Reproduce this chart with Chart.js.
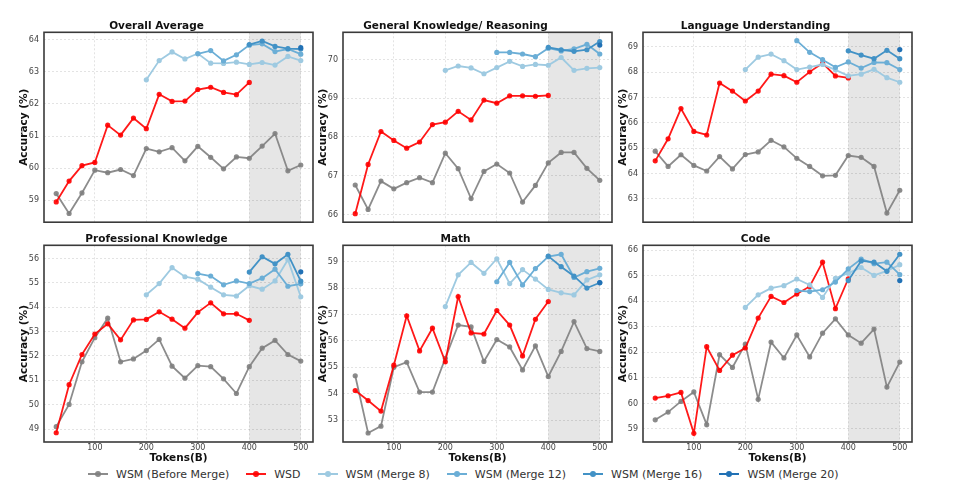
<!DOCTYPE html>
<html>
<head>
<meta charset="utf-8">
<script src="https://cdn.jsdelivr.net/npm/chart.js@4.4.0/dist/chart.umd.min.js"></script>
<style>
  body { margin: 0; background: #fff; width: 960px; height: 498px; position: relative; overflow: hidden; font-family: "DejaVu Sans", sans-serif; }
  canvas { position: absolute; }
  #legend { position: absolute; top: 466px; left: 88px; height: 16px; display: flex; align-items: center; font-size: 11px; color: #333; }
  .item { display: flex; align-items: center; margin-right: 17px; }
  .mk { position: relative; width: 20px; height: 10px; margin-right: 8px; }
  .mk::before { content: ''; position: absolute; left: 0; right: 0; top: 4px; height: 2px; background: var(--c); }
  .mk::after { content: ''; position: absolute; left: 7px; top: 2px; width: 6px; height: 6px; border-radius: 50%; background: var(--c); }
</style>
</head>
<body>
<div id="legend"></div>
<script>
// x values (tokens, billions)
const tokens = [25, 50, 75, 100, 125, 150, 175, 200, 225, 250, 275, 300, 325, 350, 375, 400, 425, 450, 475, 500];
const xTicks = [100, 200, 300, 400, 500];

const seriesNames = ['WSM (Before Merge)', 'WSD', 'WSM (Merge 8)', 'WSM (Merge 12)', 'WSM (Merge 16)', 'WSM (Merge 20)'];
const seriesColors = ['rgba(128,128,128,0.9)', 'rgba(255,0,0,0.9)', '#9ecae1', '#6baed6', '#4292c6', '#2171b5'];

// Overall Average
const avgBefore = [59.21, 58.59, 59.23, 59.94, 59.86, 59.96, 59.77, 60.61, 60.51, 60.64, 60.23, 60.68, 60.34, 59.98, 60.35, 60.31, 60.69, 61.08, 59.92, 60.10];
const avgWSD = [58.95, 59.60, 60.08, 60.18, 61.34, 61.03, 61.56, 61.23, 62.30, 62.08, 62.09, 62.45, 62.52, 62.36, 62.29, 62.67];
const avgM8 = [62.75, 63.35, 63.62, 63.40, 63.57, 63.27, 63.26, 63.30, 63.23, 63.29, 63.21, 63.48, 63.35];
const avgM12 = [63.56, 63.66, 63.34, 63.53, 63.83, 63.87, 63.63, 63.71, 63.55];
const avgM16 = [63.85, 63.96, 63.79, 63.72, 63.71];
const avgM20 = [63.75];

// General Knowledge/ Reasoning
const genBefore = [66.76, 66.13, 66.86, 66.66, 66.82, 66.95, 66.82, 67.58, 67.18, 66.41, 67.11, 67.30, 67.07, 66.32, 66.75, 67.33, 67.60, 67.60, 67.19, 66.88];
const genWSD = [66.02, 67.29, 68.14, 67.91, 67.71, 67.87, 68.32, 68.38, 68.66, 68.44, 68.95, 68.87, 69.06, 69.06, 69.05, 69.07];
const genM8 = [69.72, 69.83, 69.78, 69.63, 69.79, 69.95, 69.82, 69.87, 69.85, 70.05, 69.72, 69.77, 69.79];
const genM12 = [70.18, 70.18, 70.14, 70.07, 70.29, 70.22, 70.27, 70.39, 70.14];
const genM16 = [70.31, 70.25, 70.21, 70.25, 70.46];
const genM20 = [70.37];

// Language Understanding
const langBefore = [64.88, 64.28, 64.74, 64.32, 64.10, 64.67, 64.18, 64.75, 64.85, 65.31, 65.05, 64.60, 64.28, 63.91, 63.93, 64.71, 64.64, 64.28, 62.44, 63.34];
const langWSD = [64.50, 65.37, 66.56, 65.66, 65.52, 67.57, 67.25, 66.86, 67.25, 67.92, 67.86, 67.60, 68.01, 68.35, 67.85, 67.77];
const langM8 = [68.10, 68.59, 68.71, 68.45, 68.10, 68.20, 68.30, 68.09, 67.85, 67.92, 68.11, 67.78, 67.60];
const langM12 = [69.24, 68.78, 68.49, 68.19, 68.40, 68.16, 68.38, 68.37, 68.10];
const langM16 = [68.84, 68.67, 68.53, 68.86, 68.53];
const langM20 = [68.89];

// Professional Knowledge
const proBefore = [49.10, 50.01, 51.76, 52.75, 53.55, 51.76, 51.88, 52.22, 52.68, 51.58, 51.09, 51.60, 51.56, 51.06, 50.46, 51.56, 52.32, 52.64, 52.06, 51.79];
const proWSD = [48.85, 50.82, 52.06, 52.90, 53.32, 52.66, 53.48, 53.50, 53.81, 53.51, 53.14, 53.79, 54.18, 53.73, 53.73, 53.46];
const proM8 = [54.51, 54.97, 55.62, 55.25, 55.15, 54.82, 54.51, 54.46, 54.88, 54.74, 55.08, 55.95, 54.43];
const proM12 = [55.38, 55.28, 54.92, 55.08, 54.97, 55.19, 55.56, 54.86, 54.96];
const proM16 = [55.44, 56.07, 55.78, 56.17, 55.07];
const proM20 = [55.45];

// Math
const mathBefore = [54.68, 52.51, 52.77, 55.00, 55.19, 54.06, 54.06, 55.34, 56.60, 56.53, 55.22, 56.05, 55.77, 54.90, 55.81, 54.65, 55.60, 56.73, 55.71, 55.60];
const mathWSD = [54.12, 53.74, 53.34, 55.08, 56.95, 55.62, 56.48, 55.21, 57.68, 56.30, 56.26, 57.15, 56.60, 55.43, 56.82, 57.49];
const mathM8 = [57.30, 58.50, 58.97, 58.56, 59.11, 58.17, 58.70, 58.34, 57.95, 57.82, 57.74, 58.31, 58.50];
const mathM12 = [58.24, 58.97, 58.12, 58.74, 59.19, 59.28, 58.40, 58.62, 58.75];
const mathM16 = [59.21, 58.81, 58.45, 58.00, 58.20];
const mathM20 = [58.21];

// Code
const codeBefore = [59.36, 59.66, 60.08, 60.45, 59.17, 61.91, 61.41, 62.32, 60.16, 62.40, 61.78, 62.68, 61.82, 62.75, 63.31, 62.68, 62.36, 62.91, 60.64, 61.62];
const codeWSD = [60.21, 60.30, 60.43, 58.83, 62.22, 61.29, 61.89, 62.17, 63.34, 64.19, 63.95, 64.28, 64.58, 65.53, 63.71, 64.88];
const codeM8 = [63.76, 64.25, 64.51, 64.61, 64.87, 64.64, 64.15, 64.90, 65.10, 65.32, 65.01, 65.19, 65.43];
const codeM12 = [64.42, 64.38, 64.45, 64.75, 65.27, 65.65, 65.47, 65.53, 65.04];
const codeM16 = [64.81, 65.58, 65.53, 65.17, 65.84];
const codeM20 = [64.81];

const panels = [
    { title: 'Overall Average', series: [avgBefore, avgWSD, avgM8, avgM12, avgM16, avgM20], yMin: 58.32, yMax: 64.23, yTicks: [59, 60, 61, 62, 63, 64] },
    { title: 'General Knowledge/ Reasoning', series: [genBefore, genWSD, genM8, genM12, genM16, genM20], yMin: 65.80, yMax: 70.70, yTicks: [66, 67, 68, 69, 70] },
    { title: 'Language Understanding', series: [langBefore, langWSD, langM8, langM12, langM16, langM20], yMin: 62.08, yMax: 69.57, yTicks: [63, 64, 65, 66, 67, 68, 69] },
    { title: 'Professional Knowledge', series: [proBefore, proWSD, proM8, proM12, proM16, proM20], yMin: 48.47, yMax: 56.54, yTicks: [49, 50, 51, 52, 53, 54, 55, 56] },
    { title: 'Math', series: [mathBefore, mathWSD, mathM8, mathM12, mathM16, mathM20], yMin: 52.17, yMax: 59.62, yTicks: [53, 54, 55, 56, 57, 58, 59] },
    { title: 'Code', series: [codeBefore, codeWSD, codeM8, codeM12, codeM16, codeM20], yMin: 58.49, yMax: 66.19, yTicks: [59, 60, 61, 62, 63, 64, 65, 66] },
];

// merged series end at 500, WSD starts at 25
function toPoints(vals, k) {
    const start = k === 1 ? 0 : tokens.length - vals.length;
    return vals.map((v, j) => ({ x: tokens[start + j], y: v }));
}

// grey band for 400-500 and the dark frame around the plot
const shadeAndFrame = {
    id: 'shadeAndFrame',
    beforeDraw(chart) {
        const { ctx, chartArea: a, scales: { x } } = chart;
        const x0 = x.getPixelForValue(400), x1 = x.getPixelForValue(500);
        ctx.save();
        ctx.fillStyle = '#e6e6e6';
        ctx.fillRect(x0, a.top, x1 - x0, a.bottom - a.top);
        ctx.restore();
    },
    afterDraw(chart) {
        const { ctx, chartArea: a } = chart;
        ctx.save();
        ctx.strokeStyle = '#3a3a3a';
        ctx.lineWidth = 1.6;
        ctx.strokeRect(a.left, a.top, a.right - a.left, a.bottom - a.top);
        ctx.restore();
    }
};

Chart.defaults.font.family = 'DejaVu Sans';

const plotLefts = [44, 343.3, 642.7];

panels.forEach((p, i) => {
    const row = Math.floor(i / 3), col = i % 3;
    const bottomRow = row === 1;
    const canvas = document.createElement('canvas');
    canvas.width = 319;
    canvas.height = bottomRow ? 259 : 232;
    canvas.style.left = (plotLefts[col] - 44) + 'px';
    canvas.style.top = (bottomRow ? 213.4 : 0) + 'px';
    document.body.appendChild(canvas);

    new Chart(canvas, {
        type: 'line',
        data: {
            datasets: p.series.map((vals, k) => ({
                label: seriesNames[k],
                data: toPoints(vals, k),
                borderColor: seriesColors[k],
                backgroundColor: seriesColors[k],
                borderWidth: 1.8,
                pointRadius: 2.6,
                pointBorderWidth: 0,
                order: 5 - k,
            })),
        },
        options: {
            responsive: false,
            animation: false,
            events: [],
            layout: { padding: { left: 0, right: 6, top: 0, bottom: 0 } },
            plugins: {
                legend: { display: false },
                tooltip: { enabled: false },
                title: {
                    display: true,
                    text: p.title,
                    color: '#111',
                    font: { size: 10.5, weight: 'bold', lineHeight: 1.2 },
                    padding: { top: 19.5, bottom: 0.2 },
                },
            },
            scales: {
                x: {
                    type: 'linear',
                    min: 1.25,
                    max: 523.75,
                    afterBuildTicks: s => { s.ticks = xTicks.map(v => ({ value: v })); },
                    afterFit: s => { s.height = bottomRow ? 30 : 3; },
                    ticks: { display: bottomRow, color: '#444', font: { size: 8 }, padding: 1, maxRotation: 0 },
                    grid: { color: 'rgba(0,0,0,0.14)', lineWidth: 0.8, drawTicks: false },
                    border: { display: false, dash: [2, 2] },
                    title: {
                        display: bottomRow,
                        text: 'Tokens(B)',
                        color: '#111',
                        font: { size: 10.5, weight: 'bold', lineHeight: 1.2 },
                        padding: { top: 0, bottom: 7 },
                    },
                },
                y: {
                    min: p.yMin,
                    max: p.yMax,
                    afterBuildTicks: s => { s.ticks = p.yTicks.map(v => ({ value: v })); },
                    afterFit: s => { s.width = 44; },
                    ticks: { color: '#444', font: { size: 8 }, padding: 5 },
                    grid: { color: 'rgba(0,0,0,0.14)', lineWidth: 0.8, drawTicks: false },
                    border: { display: false, dash: [2, 2] },
                    title: {
                        display: true,
                        text: 'Accuracy (%)',
                        color: '#111',
                        font: { size: 10.5, weight: 'bold', lineHeight: 1.2 },
                        padding: { top: 17.7, bottom: 0 },
                    },
                },
            },
        },
        plugins: [shadeAndFrame],
    });
});

// legend row
const legend = document.getElementById('legend');
seriesNames.forEach((name, k) => {
    const item = document.createElement('div');
    item.className = 'item';
    const mk = document.createElement('span');
    mk.className = 'mk';
    mk.style.setProperty('--c', seriesColors[k]);
    const txt = document.createElement('span');
    txt.textContent = name;
    item.appendChild(mk);
    item.appendChild(txt);
    legend.appendChild(item);
});
</script>
</body>
</html>
